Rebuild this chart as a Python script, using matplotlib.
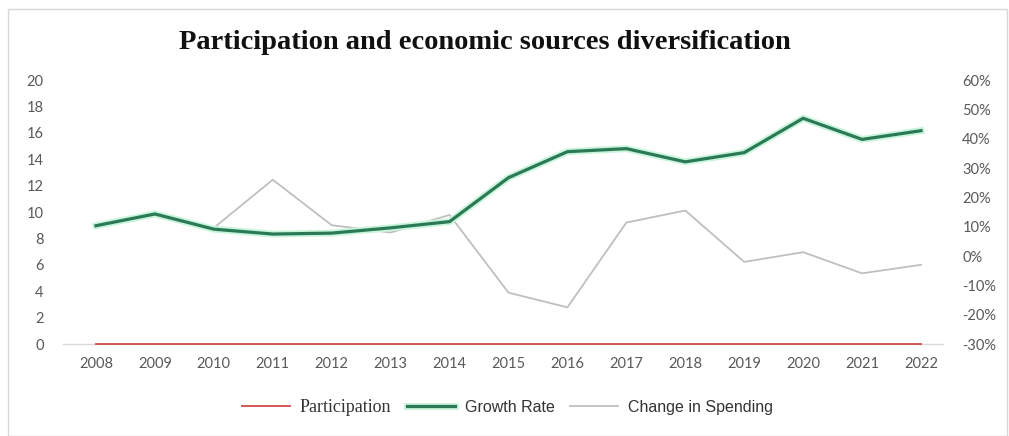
import matplotlib.pyplot as plt
import matplotlib.patheffects as pe
from matplotlib.ticker import PercentFormatter, MultipleLocator
from matplotlib.patches import Rectangle

plt.rcParams['axes.unicode_minus'] = False

# series (left axis: level, right axis: change in spending as a fraction)
years = list(range(2008, 2023))
participation = [0.0] * 15
growth_rate = [8.96, 9.85, 8.7, 8.33, 8.4, 8.8, 9.27, 12.6, 14.57, 14.8, 13.8, 14.5, 17.1, 15.5, 16.16]
spending_change = [0.11, 0.14, 0.096, 0.26, 0.105, 0.08, 0.14, -0.125, -0.175, 0.114,
                   0.155, -0.02, 0.013, -0.059, -0.03]

title = 'Participation and economic sources diversification'

fig = plt.figure(figsize=(10.09, 4.36), dpi=100)
fig.patches.append(Rectangle((0.008, 0.0), 0.99, 0.98, transform=fig.transFigure,
                             fill=False, edgecolor='#d9d9d9', linewidth=1.0))

ax = fig.add_axes([0.0624, 0.211, 0.872, 0.6055])
ax2 = ax.twinx()

tick_color = '#595959'
ax.axhline(0, color='#d9d9d9', linewidth=1.0, zorder=1, clip_on=False)
l1, = ax.plot(years, participation, color='#cf4a47', linewidth=1.3, zorder=3,
              label='Participation', clip_on=False)
l3, = ax2.plot(years, spending_change, color='#bfbfbf', linewidth=1.3, zorder=2,
               label='Change in Spending')
l2, = ax.plot(years, growth_rate, color='#2b7a55', linewidth=2.3, zorder=4, label='Growth Rate',
              path_effects=[pe.Stroke(linewidth=5, foreground='#c9f5dc'), pe.Normal()])

ax.set_zorder(ax2.get_zorder() + 1)
ax.patch.set_visible(False)

ax.set_xlim(2007.44, 2022.37)
ax.set_ylim(0, 20)
ax.yaxis.set_major_locator(MultipleLocator(2))
ax2.set_ylim(-0.30, 0.60)
ax2.yaxis.set_major_locator(MultipleLocator(0.10))
ax2.yaxis.set_major_formatter(PercentFormatter(1.0, decimals=0))
ax.set_xticks(years)

for a in (ax, ax2):
    for s in a.spines.values():
        s.set_visible(False)
    a.tick_params(length=0, colors=tick_color, labelsize=10.5)
    for lab in a.get_xticklabels() + a.get_yticklabels():
        lab.set_fontfamily('Lato')
ax.tick_params(axis='y', pad=14)
ax2.tick_params(axis='y', pad=14)
ax.tick_params(axis='x', pad=9)

fig.text(0.481, 0.902, title, ha='center', va='center', fontsize=20.5,
         fontweight='bold', fontfamily='Liberation Serif', color='#111111')

leg = fig.legend(handles=[l1, l2, l3], loc='center', bbox_to_anchor=(0.503, 0.066),
                 ncol=3, frameon=False, handlelength=3.0,
                 handletextpad=0.6, columnspacing=1.0,
                 prop={'family': 'Liberation Sans', 'size': 11.5})
texts = leg.get_texts()
texts[0].set_fontfamily('Liberation Serif')
texts[0].set_fontsize(13)
for t in texts:
    t.set_color('#333333')

fig.savefig('out.png', dpi=100)
